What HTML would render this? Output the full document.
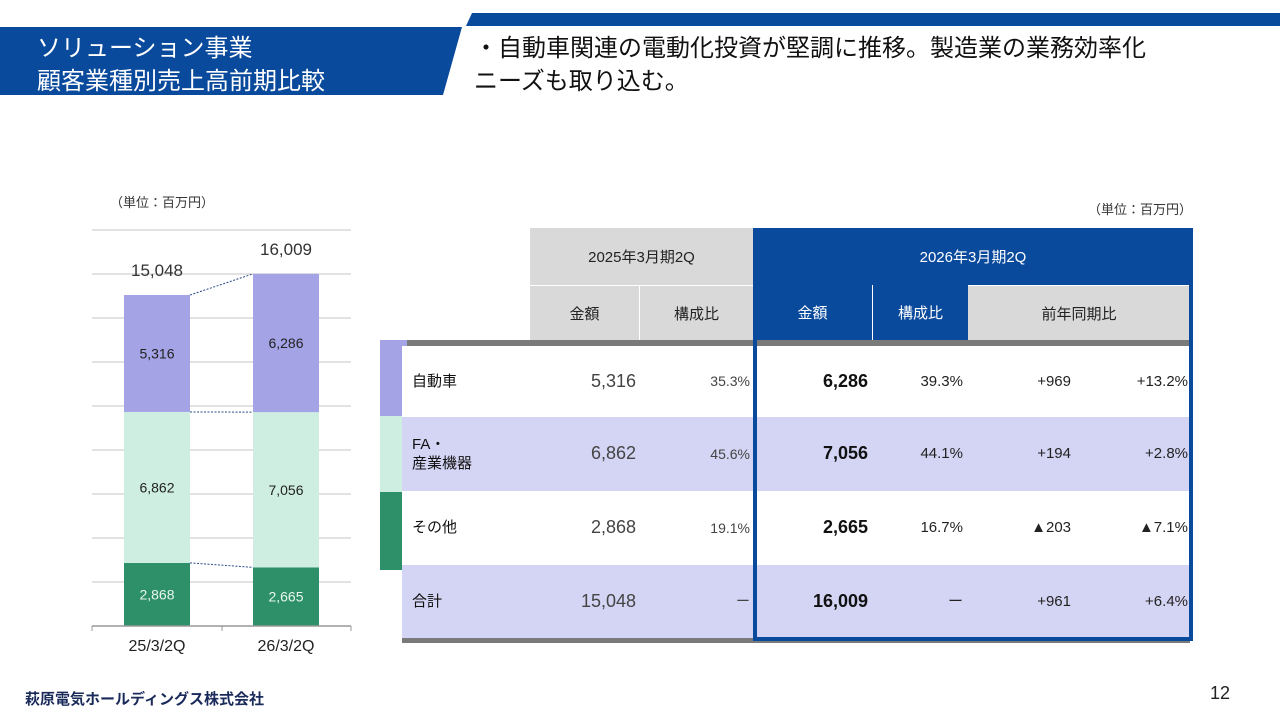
<!DOCTYPE html>
<html><head><meta charset="utf-8">
<style>
body{margin:0;width:1280px;height:720px;background:#fff;position:relative;overflow:hidden;font-family:"Liberation Sans","Noto Sans CJK JP",sans-serif;}
.abs{position:absolute;}
.t{position:absolute;white-space:nowrap;}
.c{position:absolute;box-sizing:border-box;display:flex;align-items:center;justify-content:center;font-size:15px;color:#222;}
.r{justify-content:flex-end;}
</style></head><body>
<svg class="abs" style="left:0;top:0" width="1280" height="110">
<polygon points="472,13 1280,13 1280,26 466,26" fill="#0a4a9c"/>
<polygon points="0,27 462,27 443,95 0,95" fill="#0a4a9c"/>
</svg>
<div class="t" style="left:37px;top:32px;color:#fff;font-size:24px;line-height:33px;">ソリューション事業<br>顧客業種別売上高前期比較</div>
<div class="t" style="left:474px;top:32px;color:#111;font-size:24px;line-height:33px;">・自動車関連の電動化投資が堅調に推移。製造業の業務効率化<br>ニーズも取り込む。</div>

<div class="t" style="left:110px;top:192px;font-size:13px;color:#333;">（単位：百万円）</div>
<svg id="chart" class="abs" style="left:0;top:0" width="400" height="680"></svg>

<div class="t" style="left:1088px;top:199px;font-size:13px;color:#333;">（単位：百万円）</div>

<div id="table">
<!-- header -->
<div class="c" style="left:530px;top:228px;width:223px;height:57px;background:#d9d9d9;">2025年3月期2Q</div>
<div class="c" style="left:753px;top:228px;width:440px;height:57px;background:#0a4a9c;color:#fff;">2026年3月期2Q</div>
<div class="c" style="left:530px;top:286px;width:109px;height:54px;background:#d9d9d9;">金額</div>
<div class="c" style="left:640px;top:286px;width:113px;height:54px;background:#d9d9d9;">構成比</div>
<div class="c" style="left:753px;top:285px;width:119px;height:55px;background:#0a4a9c;color:#fff;">金額</div>
<div class="c" style="left:873px;top:285px;width:95px;height:55px;background:#0a4a9c;color:#fff;">構成比</div>
<div class="c" style="left:968px;top:286px;width:222px;height:54px;background:#d9d9d9;">前年同期比</div>
<div class="abs" style="left:402px;top:340px;width:788px;height:6px;background:#7a7a7a;"></div>
<div class="abs" style="left:402px;top:638px;width:788px;height:5px;background:#7a7a7a;"></div>
<div class="abs" style="left:380px;top:340px;width:27px;height:76px;background:#a3a3e6;"></div>
<div class="abs" style="left:380px;top:416px;width:27px;height:76px;background:#cdeee0;"></div>
<div class="abs" style="left:380px;top:492px;width:27px;height:78px;background:#2e9068;"></div>
<div id="rows"></div>
<div class="abs" style="left:753px;top:228px;width:440px;height:413px;border:4px solid #0a4a9c;box-sizing:border-box;"></div>
</div>

<div class="t" style="left:25px;top:688px;font-size:15px;font-weight:bold;color:#1a2a5a;">萩原電気ホールディングス株式会社</div>
<div class="t" style="left:1210px;top:683px;font-size:18px;color:#222;">12</div>

<script>
const periods = ["25/3/2Q","26/3/2Q"];
const seriesNames = ["その他","FA・産業機器","自動車"];
const otherVals = [2868,2665];
const faVals = [6862,7056];
const autoVals = [5316,6286];
const totals = [15048,16009];
const yTicks = [0,2000,4000,6000,8000,10000,12000,14000,16000,18000];

const NS="http://www.w3.org/2000/svg";
const svg=document.getElementById('chart');
const y0=626, pxPer=44/2000, plotL=92, plotR=351;
const yS=v=>y0-v*pxPer;
const xC=i=>157+i*129;
const bw=66;
function mk(t,a){const e=document.createElementNS(NS,t);for(const k in a)e.setAttribute(k,a[k]);svg.appendChild(e);return e;}
yTicks.forEach(v=>{if(v===0)return;const l=mk('line',{x1:plotL,x2:plotR,y1:yS(v),y2:yS(v),stroke:'#d9d9d9','stroke-width':1.5});

});
const series=[[otherVals,'#2e9068','#e8f6ef'],[faVals,'#cdeee0','#222'],[autoVals,'#a3a3e6','#222']];
const tops=[[],[],[]];
periods.forEach((p,i)=>{
 let base=0;
 series.forEach((s,k)=>{
  const v=s[0][i];const yt=yS(base+v),yb=yS(base);
  const r=mk('rect',{x:xC(i)-bw/2,y:yt,width:bw,height:yb-yt,fill:s[1]});
  
  
  const tx=mk('text',{x:xC(i),y:(yt+yb)/2+5,'text-anchor':'middle','font-size':14,fill:s[2],'font-family':'Liberation Sans'});
  tx.textContent=v.toLocaleString('en-US');
  
  
  tops[k][i]=yt;base+=v;
 });
 const tt=mk('text',{x:xC(i)+ (i===0?0:0),y:yS(totals[i])-19,'text-anchor':'middle','font-size':17,fill:'#333','font-family':'Liberation Sans'});
 tt.textContent=totals[i].toLocaleString('en-US');
 
 
 const xl=mk('text',{x:xC(i),y:651,'text-anchor':'middle','font-size':16,fill:'#222','font-family':'Liberation Sans'});
 xl.textContent=p;
 
 
});
[0,1,2].forEach(k=>{const l=mk('line',{x1:xC(0)+bw/2,y1:tops[k][0],x2:xC(1)-bw/2,y2:tops[k][1],stroke:'#2a4a8a','stroke-width':1,'stroke-dasharray':'2,1.5'});

});
const ax=mk('line',{x1:plotL,x2:plotR,y1:y0,y2:y0,stroke:'#999','stroke-width':1.5});


[plotL,222,plotR].forEach(x=>{const t=mk('line',{x1:x,x2:x,y1:y0,y2:y0+5,stroke:'#999'});

});

// table rows
const rows=[
 ["自動車","5,316","35.3%","6,286","39.3%","+969","+13.2%",346,71,"#fff"],
 ["FA・<br>産業機器","6,862","45.6%","7,056","44.1%","+194","+2.8%",417,74,"#d4d4f4"],
 ["その他","2,868","19.1%","2,665","16.7%","▲203","▲7.1%",491,74,"#fff"],
 ["合計","15,048","ー","16,009","ー","+961","+6.4%",565,73,"#d4d4f4"]];
const cont=document.getElementById('rows');
rows.forEach((r,i)=>{
 const bg=document.createElement('div');bg.className='abs';
 bg.style.cssText=`left:402px;top:${r[7]}px;width:788px;height:${r[8]}px;background:${r[9]};`;
 
 
 cont.appendChild(bg);
 const cells=[[412,120,r[0],'left',15,400,'#111'],[530,106,r[1],'r',18,400,'#444'],[640,110,r[2],'r',14,400,'#444'],[753,115,r[3],'r',18,700,'#111'],[873,90,r[4],'r',15,400,'#222'],[968,103,r[5],'r',15,400,'#222'],[1076,112,r[6],'r',15,400,'#222']];
 cells.forEach(c=>{const d=document.createElement('div');d.className='c'+(c[3]==='r'?' r':'');
  d.style.cssText=`left:${c[0]}px;top:${r[7]}px;width:${c[1]}px;height:${r[8]}px;font-size:${c[4]}px;font-weight:${c[5]};color:${c[6]};line-height:1.3;`+(c[3]==='left'?'justify-content:flex-start;':'');
  d.innerHTML=c[2];
  
  
  cont.appendChild(d);});
});
</script>
</body></html>
